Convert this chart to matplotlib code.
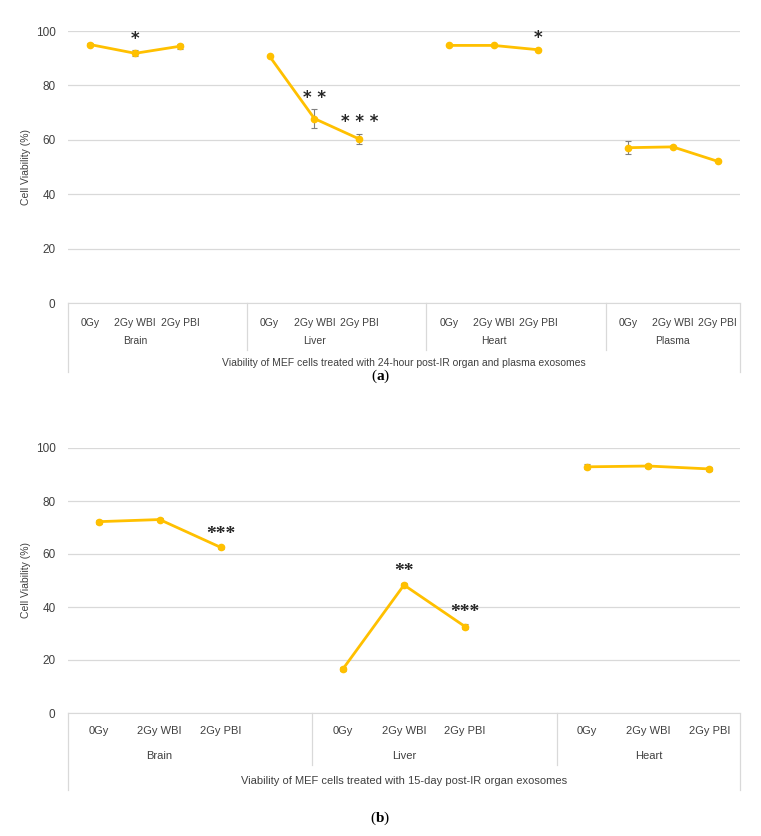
import numpy as np
import matplotlib
matplotlib.use("Agg")
import matplotlib.pyplot as plt
import matplotlib.transforms as mtransforms

plt.rcParams['font.family'] = ['Liberation Sans Narrow', 'Liberation Sans', 'DejaVu Sans']
plt.rcParams['mathtext.fontset'] = 'custom'
plt.rcParams['mathtext.rm'] = 'Liberation Serif'
plt.rcParams['mathtext.bf'] = 'Liberation Serif:bold'

treatments = ["0Gy", "2Gy WBI", "2Gy PBI"]

# panel (a): 24-hour post-IR
groups_a = ["Brain", "Liver", "Heart", "Plasma"]
vals_a = [[95.0, 91.8, 94.4],
          [90.7, 67.8, 60.3],
          [94.7, 94.7, 93.1],
          [57.1, 57.4, 52.1]]
err_a = [[0.6, 1.1, 0.9],
         [0.4, 3.5, 2.0],
         [0.3, 0.3, 0.4],
         [2.5, 0.4, 0.4]]
stars_a = [["", "*", ""],
           ["", "**", "***"],
           ["", "", "*"],
           ["", "", ""]]
title_a = "Viability of MEF cells treated with 24-hour post-IR organ and plasma exosomes"

# panel (b): 15-day post-IR
groups_b = ["Brain", "Liver", "Heart"]
vals_b = [[72.2, 73.0, 62.5],
          [16.6, 48.3, 32.6],
          [92.9, 93.2, 92.1]]
err_b = [[0.8, 0.7, 0.6],
         [0.8, 0.6, 0.9],
         [0.9, 0.7, 0.9]]
stars_b = [["", "", "***"],
           ["", "**", "***"],
           ["", "", ""]]
title_b = "Viability of MEF cells treated with 15-day post-IR organ exosomes"

W, H = 761, 836
fig = plt.figure(figsize=(W / 100, H / 100), dpi=100)

LINE = "#FFC000"
GRID = "#D9D9D9"
TXT = "#404040"


def panel(top_px, bot_px, groups, vals, errs, stars, title, cap, star_font, star_size,
          cat_y, grp_y, ttl_y, sep_y, out_y, cap_px, fs):
    ax = fig.add_axes([68 / W, 1 - bot_px / H, (740 - 68) / W, (bot_px - top_px) / H])
    n = len(groups) * 4 - 1
    ax.set_xlim(-0.5, n - 0.5)
    ax.set_ylim(0, 100)
    ax.set_yticks([0, 20, 40, 60, 80, 100])
    ax.grid(axis="y", color=GRID, lw=0.9)
    ax.set_axisbelow(True)
    for s in ax.spines.values():
        s.set_visible(False)
    ax.spines["bottom"].set_visible(True)
    ax.spines["bottom"].set_color(GRID)
    ax.tick_params(axis="both", length=0, labelsize=8.5, labelcolor=TXT, pad=9)
    for lab in ax.get_yticklabels():
        lab.set_fontfamily("Liberation Sans")
    ax.set_xticks([])
    ax.set_ylabel("Cell Viability (%)", fontsize=7.5, color=TXT, labelpad=3)
    trans = mtransforms.blended_transform_factory(ax.transData, ax.transAxes)
    for g, name in enumerate(groups):
        xs = np.arange(3) + 4 * g
        ax.errorbar(xs, vals[g], yerr=errs[g], color=LINE, lw=2, marker="o", ms=4.5,
                    ecolor="#7F7F7F", elinewidth=0.8, capsize=2, capthick=0.8, zorder=3)
        for i, t in enumerate(treatments):
            ax.text(xs[i], cat_y, t, transform=trans, ha="center", va="center",
                    fontsize=fs, color=TXT)
            if stars[g][i]:
                if star_font == "sans":
                    ax.text(xs[i], vals[g][i] + errs[g][i] + 0.8, " ".join(stars[g][i]),
                            ha="center", va="bottom", fontsize=star_size, color="#262626",
                            fontfamily="DejaVu Sans", fontweight="bold")
                else:
                    ax.text(xs[i], vals[g][i] + errs[g][i] + 1.2, stars[g][i],
                            ha="center", va="bottom", fontsize=star_size, color="#262626",
                            fontfamily="Liberation Serif", fontweight="bold")
        gx = 4 * g + 1
        ax.text(gx, grp_y, name, transform=trans, ha="center", va="center", fontsize=fs, color=TXT)
        if g > 0:
            ax.plot([4 * g - 0.5] * 2, [0, sep_y], transform=trans, color=GRID, lw=0.9, clip_on=False)
    for xe in (-0.5, n - 0.5):
        ax.plot([xe] * 2, [0, out_y], transform=trans, color=GRID, lw=0.9, clip_on=False)
    ax.text((n - 1) / 2, ttl_y, title, transform=trans, ha="center", va="center", fontsize=fs, color=TXT)
    fig.text(0.5, 1 - cap_px / H, "(" + r"$\mathbf{" + cap + "}$" + ")", ha="center", va="center",
             fontsize=11, fontfamily="Liberation Serif", color="black")
    return ax


panel(31, 303, groups_a, vals_a, err_a, stars_a, title_a, "a", "sans", 12,
      cat_y=-0.074, grp_y=-0.140, ttl_y=-0.221, sep_y=-0.173, out_y=-0.254, cap_px=376, fs=7.5)
panel(448, 713, groups_b, vals_b, err_b, stars_b, title_b, "b", "serif", 14,
      cat_y=-0.068, grp_y=-0.162, ttl_y=-0.257, sep_y=-0.196, out_y=-0.291, cap_px=818, fs=8)

fig.savefig("out.png", dpi=100)
